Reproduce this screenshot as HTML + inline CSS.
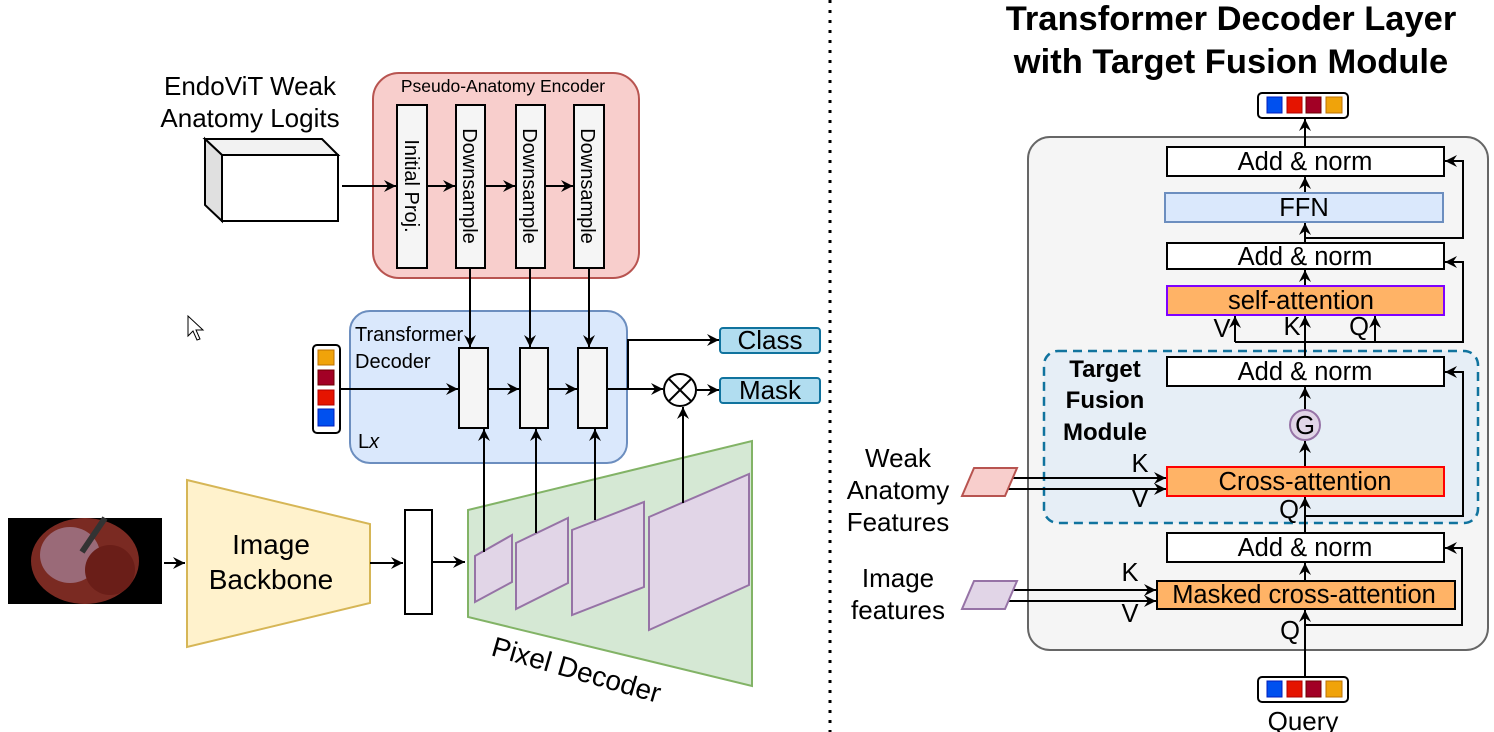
<!DOCTYPE html>
<html><head><meta charset="utf-8"><style>
html,body{margin:0;padding:0;background:#fff;}
svg{display:block;font-family:"Liberation Sans",sans-serif;}
</style></head><body>
<svg width="1494" height="732" viewBox="0 0 1494 732" xmlns="http://www.w3.org/2000/svg">
<defs>
<marker id="a" markerWidth="13" markerHeight="12" refX="12" refY="6" orient="auto" markerUnits="userSpaceOnUse">
<path d="M0,0 L12,6 L0,12 L4,6 Z" fill="#000"/></marker>
</defs>
<line x1="830" y1="0" x2="830" y2="732" stroke="#000" stroke-width="3" stroke-dasharray="3,7"/>

<!-- LEFT -->
<text x="250" y="95" font-size="26" text-anchor="middle">EndoViT Weak</text>
<text x="250" y="127" font-size="26" text-anchor="middle">Anatomy Logits</text>
<polygon points="205,139 322,139 338,155 222,155" fill="#f2f2f2" stroke="#000" stroke-width="2"/>
<polygon points="205,139 222,155 222,221 205,205" fill="#e0e0e0" stroke="#000" stroke-width="2"/>
<rect x="222" y="155" width="116" height="66" fill="#fff" stroke="#000" stroke-width="2"/>

<rect x="373" y="73" width="266" height="205" rx="26" fill="#f8cecc" stroke="#b85450" stroke-width="2"/>
<text x="503" y="92" font-size="17.5" text-anchor="middle">Pseudo-Anatomy Encoder</text>
<g fill="#f5f5f5" stroke="#000" stroke-width="2">
<rect x="397" y="105" width="30" height="163"/>
<rect x="456" y="105" width="29" height="163"/>
<rect x="516" y="105" width="29" height="163"/>
<rect x="574" y="105" width="30" height="163"/>
</g>
<g font-size="20">
<text transform="translate(405,186) rotate(90)" text-anchor="middle">Initial Proj.</text>
<text transform="translate(463,186) rotate(90)" text-anchor="middle">Downsample</text>
<text transform="translate(523,186) rotate(90)" text-anchor="middle">Downsample</text>
<text transform="translate(581,186) rotate(90)" text-anchor="middle">Downsample</text>
</g>
<g stroke="#000" stroke-width="2" fill="none" marker-end="url(#a)">
<line x1="342" y1="186" x2="396" y2="186"/>
<line x1="427" y1="186" x2="455" y2="186"/>
<line x1="485" y1="186" x2="515" y2="186"/>
<line x1="545" y1="186" x2="573" y2="186"/>
</g>

<!-- cursor -->
<path d="M188,316 L188,336 L193,331 L197,340 L200,339 L196,330 L203,330 Z" fill="#fff" stroke="#000" stroke-width="1"/>

<rect x="350" y="311" width="277" height="152" rx="20" fill="#dae8fc" stroke="#6c8ebf" stroke-width="2"/>
<text x="355" y="341" font-size="20">Transformer</text>
<text x="355" y="368" font-size="20">Decoder</text>
<text x="358" y="448" font-size="20">L<tspan font-style="italic">x</tspan></text>
<rect x="313" y="345" width="27" height="88" rx="4" fill="#fff" stroke="#000" stroke-width="2"/>
<rect x="318" y="350" width="16" height="15" fill="#f0a30a" stroke="#bd7000"/>
<rect x="318" y="370" width="16" height="15" fill="#a20025" stroke="#6f0000"/>
<rect x="318" y="390" width="16" height="15" fill="#e51400" stroke="#b20000"/>
<rect x="318" y="409" width="16" height="17" fill="#0050ef" stroke="#001dbc"/>
<g fill="#f5f5f5" stroke="#000" stroke-width="2">
<rect x="459" y="348" width="29" height="80"/>
<rect x="520" y="348" width="28" height="80"/>
<rect x="578" y="348" width="29" height="80"/>
</g>
<g stroke="#000" stroke-width="2" fill="none" marker-end="url(#a)">
<line x1="340" y1="389" x2="458" y2="389"/>
<line x1="488" y1="389" x2="519" y2="389"/>
<line x1="548" y1="389" x2="577" y2="389"/>
<line x1="470" y1="268" x2="470" y2="347"/>
<line x1="530" y1="268" x2="530" y2="347"/>
<line x1="589" y1="268" x2="589" y2="347"/>
<polyline points="607,389 628,389 628,340 719,340"/>
<line x1="628" y1="389" x2="663" y2="389"/>
<line x1="697" y1="390" x2="719" y2="390"/>
</g>
<circle cx="680" cy="390" r="16" fill="#fff" stroke="#000" stroke-width="2"/>
<line x1="669" y1="379" x2="691" y2="401" stroke="#000" stroke-width="2"/>
<line x1="691" y1="379" x2="669" y2="401" stroke="#000" stroke-width="2"/>
<rect x="720" y="328" width="100" height="25" rx="3" fill="#b1ddf0" stroke="#10739e" stroke-width="2"/>
<text x="770" y="349" font-size="26" text-anchor="middle">Class</text>
<rect x="720" y="378" width="100" height="25" rx="3" fill="#b1ddf0" stroke="#10739e" stroke-width="2"/>
<text x="770" y="399" font-size="26" text-anchor="middle">Mask</text>

<!-- image -->
<rect x="8" y="518" width="154" height="86" fill="#000"/>
<ellipse cx="85" cy="561" rx="54" ry="43" fill="#7a2a22"/>
<ellipse cx="70" cy="555" rx="30" ry="28" fill="#9a6a78"/>
<ellipse cx="110" cy="570" rx="25" ry="25" fill="#6a1e18"/>
<line x1="82" y1="552" x2="105" y2="518" stroke="#333" stroke-width="6"/>

<line x1="164" y1="563" x2="185" y2="563" stroke="#000" stroke-width="2" marker-end="url(#a)"/>
<polygon points="187,480 370,524 370,603 187,647" fill="#fff2cc" stroke="#d6b656" stroke-width="2"/>
<text x="271" y="554" font-size="28" text-anchor="middle">Image</text>
<text x="271" y="589" font-size="28" text-anchor="middle">Backbone</text>
<line x1="370" y1="563" x2="403" y2="563" stroke="#000" stroke-width="2" marker-end="url(#a)"/>
<rect x="405" y="510" width="27" height="104" fill="#fff" stroke="#000" stroke-width="2"/>
<line x1="432" y1="562" x2="465" y2="562" stroke="#000" stroke-width="2" marker-end="url(#a)"/>

<polygon points="468,510 752,441 752,686 468,617" fill="#d5e8d4" stroke="#82b366" stroke-width="2"/>
<g fill="#e1d5e7" stroke="#9673a6" stroke-width="2">
<polygon points="475,556 512,535 512,582 475,602"/>
<polygon points="516,543 568,518 568,583 516,609"/>
<polygon points="572,530 644,502 644,587 572,615"/>
<polygon points="649,517 749,474 749,585 649,630"/>
</g>
<g stroke="#000" stroke-width="2" fill="none" marker-end="url(#a)">
<line x1="484" y1="552" x2="484" y2="429"/>
<line x1="536" y1="533" x2="536" y2="429"/>
<line x1="595" y1="520" x2="595" y2="429"/>
<line x1="683" y1="503" x2="683" y2="407"/>
</g>
<text transform="translate(490,655) rotate(16)" font-size="28">Pixel Decoder</text>

<!-- RIGHT -->
<text x="1231" y="30" font-size="34.5" font-weight="bold" text-anchor="middle">Transformer Decoder Layer</text>
<text x="1231" y="73" font-size="34.5" font-weight="bold" text-anchor="middle">with Target Fusion Module</text>

<rect x="1258" y="93" width="90" height="25" rx="4" fill="#fff" stroke="#000" stroke-width="2"/>
<rect x="1267" y="97" width="15" height="16" fill="#0050ef" stroke="#001dbc"/>
<rect x="1287" y="97" width="15" height="16" fill="#e51400" stroke="#b20000"/>
<rect x="1306" y="97" width="15" height="16" fill="#a20025" stroke="#6f0000"/>
<rect x="1326" y="97" width="16" height="16" fill="#f0a30a" stroke="#bd7000"/>

<rect x="1028" y="137" width="460" height="513" rx="22" fill="#f5f5f5" stroke="#666" stroke-width="2"/>
<rect x="1044" y="351" width="434" height="172" rx="14" fill="#e6eef6" stroke="#10739e" stroke-width="2.5" stroke-dasharray="9,6"/>
<g font-size="24" font-weight="bold" text-anchor="middle">
<text x="1105" y="377">Target</text>
<text x="1105" y="408">Fusion</text>
<text x="1105" y="440">Module</text>
</g>

<g stroke="#000" stroke-width="2" fill="none" marker-end="url(#a)">
<line x1="1305" y1="147" x2="1305" y2="119"/>
<line x1="1305" y1="193" x2="1305" y2="177"/>
<line x1="1305" y1="243" x2="1305" y2="223"/>
<line x1="1305" y1="286" x2="1305" y2="270"/>
<line x1="1305" y1="357" x2="1305" y2="316"/>
<polyline points="1235,342 1235,316"/>
<polyline points="1375,342 1375,316"/>
<polyline points="1305,238 1463,238 1463,161 1445,161"/>
<polyline points="1305,342 1463,342 1463,262 1445,262"/>
<line x1="1305" y1="409" x2="1305" y2="387"/>
<line x1="1305" y1="467" x2="1305" y2="441"/>
<line x1="1305" y1="533" x2="1305" y2="497"/>
<polyline points="1305,516 1463,516 1463,372 1445,372"/>
<line x1="1305" y1="581" x2="1305" y2="563"/>
<line x1="1305" y1="677" x2="1305" y2="610"/>
<polyline points="1305,625 1462,625 1462,548 1445,548"/>
<line x1="1010" y1="478" x2="1166" y2="478"/>
<line x1="1006" y1="489" x2="1166" y2="489"/>
<line x1="1010" y1="590" x2="1156" y2="590"/>
<line x1="1006" y1="601" x2="1156" y2="601"/>
</g>
<line x1="1235" y1="342" x2="1375" y2="342" stroke="#000" stroke-width="2"/>

<g font-size="25.5" text-anchor="middle">
<rect x="1167" y="147" width="277" height="29" fill="#fff" stroke="#000" stroke-width="2"/>
<text x="1305" y="170">Add &amp; norm</text>
<rect x="1165" y="193" width="278" height="29" fill="#dae8fc" stroke="#6c8ebf" stroke-width="2"/>
<text x="1304" y="216">FFN</text>
<rect x="1167" y="243" width="277" height="26" fill="#fff" stroke="#000" stroke-width="2"/>
<text x="1305" y="265">Add &amp; norm</text>
<rect x="1167" y="286" width="277" height="29" fill="#ffb366" stroke="#7f00ff" stroke-width="2"/>
<text x="1301" y="309">self-attention</text>
<text x="1222" y="337">V</text>
<text x="1292" y="335">K</text>
<text x="1359" y="335">Q</text>
<rect x="1167" y="357" width="277" height="29" fill="#fff" stroke="#000" stroke-width="2"/>
<text x="1305" y="380">Add &amp; norm</text>
<circle cx="1305" cy="425" r="15" fill="#e1d5e7" stroke="#9673a6" stroke-width="2"/>
<text x="1305" y="434">G</text>
<rect x="1167" y="467" width="277" height="29" fill="#ffb366" stroke="#ff0000" stroke-width="2"/>
<text x="1305" y="490">Cross-attention</text>
<text x="1140" y="472">K</text>
<text x="1140" y="507">V</text>
<text x="1289" y="518">Q</text>
<rect x="1167" y="533" width="277" height="29" fill="#fff" stroke="#000" stroke-width="2"/>
<text x="1305" y="556">Add &amp; norm</text>
<rect x="1157" y="581" width="298" height="28" fill="#ffb366" stroke="#000" stroke-width="2"/>
<text x="1304" y="603">Masked cross-attention</text>
<text x="1130" y="581">K</text>
<text x="1130" y="622">V</text>
<text x="1290" y="639">Q</text>
</g>

<g font-size="26" text-anchor="middle">
<text x="898" y="467">Weak</text>
<text x="898" y="499">Anatomy</text>
<text x="898" y="531">Features</text>
<text x="898" y="587">Image</text>
<text x="898" y="619">features</text>
<text x="1303" y="730">Query</text>
</g>
<polygon points="974,468 1017,468 1005,496 962,496" fill="#f8cecc" stroke="#b85450" stroke-width="2"/>
<polygon points="974,581 1017,581 1005,609 962,609" fill="#e1d5e7" stroke="#9673a6" stroke-width="2"/>

<rect x="1258" y="677" width="90" height="25" rx="4" fill="#fff" stroke="#000" stroke-width="2"/>
<rect x="1267" y="681" width="15" height="16" fill="#0050ef" stroke="#001dbc"/>
<rect x="1287" y="681" width="15" height="16" fill="#e51400" stroke="#b20000"/>
<rect x="1306" y="681" width="15" height="16" fill="#a20025" stroke="#6f0000"/>
<rect x="1326" y="681" width="16" height="16" fill="#f0a30a" stroke="#bd7000"/>
</svg>
</body></html>
